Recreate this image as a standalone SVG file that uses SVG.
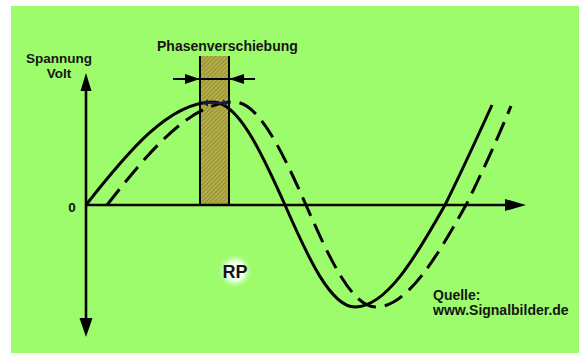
<svg xmlns="http://www.w3.org/2000/svg" width="579" height="353" viewBox="0 0 579 353">
  <style>
    .t { font-family: "Liberation Sans", Arial, sans-serif; font-weight: bold; fill: #151515; }
    .axis { stroke: #000; stroke-width: 2.6; fill: none; }
    .wave { stroke: #000; stroke-width: 3; fill: none; stroke-linecap: butt; }
    .dash { stroke-dasharray: 20 9; }
    .arr { fill: #000; }
  </style>
  <defs>
    <pattern id="hatch" width="3" height="3" patternUnits="userSpaceOnUse" patternTransform="rotate(45)">
      <rect width="3" height="3" fill="#b4ae48"/>
      <line x1="0" y1="0" x2="0" y2="3" stroke="#7d7826" stroke-width="1.2"/>
    </pattern>
    <radialGradient id="glow">
      <stop offset="0" stop-color="#ffffff"/>
      <stop offset="0.55" stop-color="#f2fff0" stop-opacity="0.9"/>
      <stop offset="1" stop-color="#9cfd6b" stop-opacity="0"/>
    </radialGradient>
  </defs>

  <rect x="0" y="0" width="579" height="353" fill="#ffffff"/>
  <rect x="11" y="6" width="568" height="347" fill="#9dfc6b"/>

  <g id="phase-band">
    <rect x="200" y="56" width="29" height="149" fill="url(#hatch)"/>
    <line x1="200" y1="56" x2="200" y2="205" stroke="#000" stroke-width="2"/>
    <line x1="229" y1="56" x2="229" y2="205" stroke="#000" stroke-width="2"/>
  </g>

  <g id="connectors">
    <!-- axes -->
    <line class="axis" x1="86" y1="89" x2="86" y2="320"/>
    <polygon class="arr" points="86,73 80.5,91 91.5,91"/>
    <polygon class="arr" points="86,337 79.5,318 92.5,318"/>
    <line class="axis" x1="86" y1="205" x2="508" y2="205"/>
    <polygon class="arr" points="526,205 505,199 505,211"/>

    <!-- phase shift arrows -->
    <line x1="173" y1="79" x2="255" y2="79" stroke="#000" stroke-width="2"/>
    <polygon class="arr" points="200,79 185,74 185,84"/>
    <polygon class="arr" points="229,79 244,74 244,84"/>

    <!-- solid wave -->
    <path class="wave" d="M86,205 C127.5,152.2 169,102 213,102 C238,102 261.5,152.2 285,205 C307.9,257.3 330.7,307 355,307 C386.2,307 415.6,257.3 445,205 C460,175 477,138 492,105"/>
    <!-- dashed wave -->
    <path class="wave dash" d="M107,205 C148.5,152.2 190,102 234,102 C259,102 282.5,152.2 306,205 C328.9,257.3 351.7,307 376,307 C407.2,307 436.6,257.3 466,205 C481,175 497,140 511,106"/>

    <!-- small peak arrow -->
    <line x1="205" y1="103" x2="226" y2="103" stroke="#1a1a4a" stroke-width="2"/>
    <polygon points="202,103 208,99.5 208,106.5" fill="#1a1a4a"/>
    <polygon points="229,103 223,99.5 223,106.5" fill="#1a1a4a"/>
  </g>

  <g id="labels">
    <text class="t" x="59" y="63" font-size="13.5" text-anchor="middle">Spannung</text>
    <text class="t" x="59" y="78" font-size="13.5" text-anchor="middle">Volt</text>
    <text class="t" x="157" y="51" font-size="14">Phasenverschiebung</text>
    <text class="t" x="72" y="212" font-size="13.5" text-anchor="middle">0</text>
    <text class="t" x="433" y="300" font-size="14">Quelle:</text>
    <text class="t" x="433" y="315" font-size="14">www.Signalbilder.de</text>
  </g>

  <g id="rp">
    <circle cx="235" cy="271" r="18" fill="url(#glow)"/>
    <text class="t" x="235" y="277.5" font-size="18" text-anchor="middle">RP</text>
  </g>
</svg>
